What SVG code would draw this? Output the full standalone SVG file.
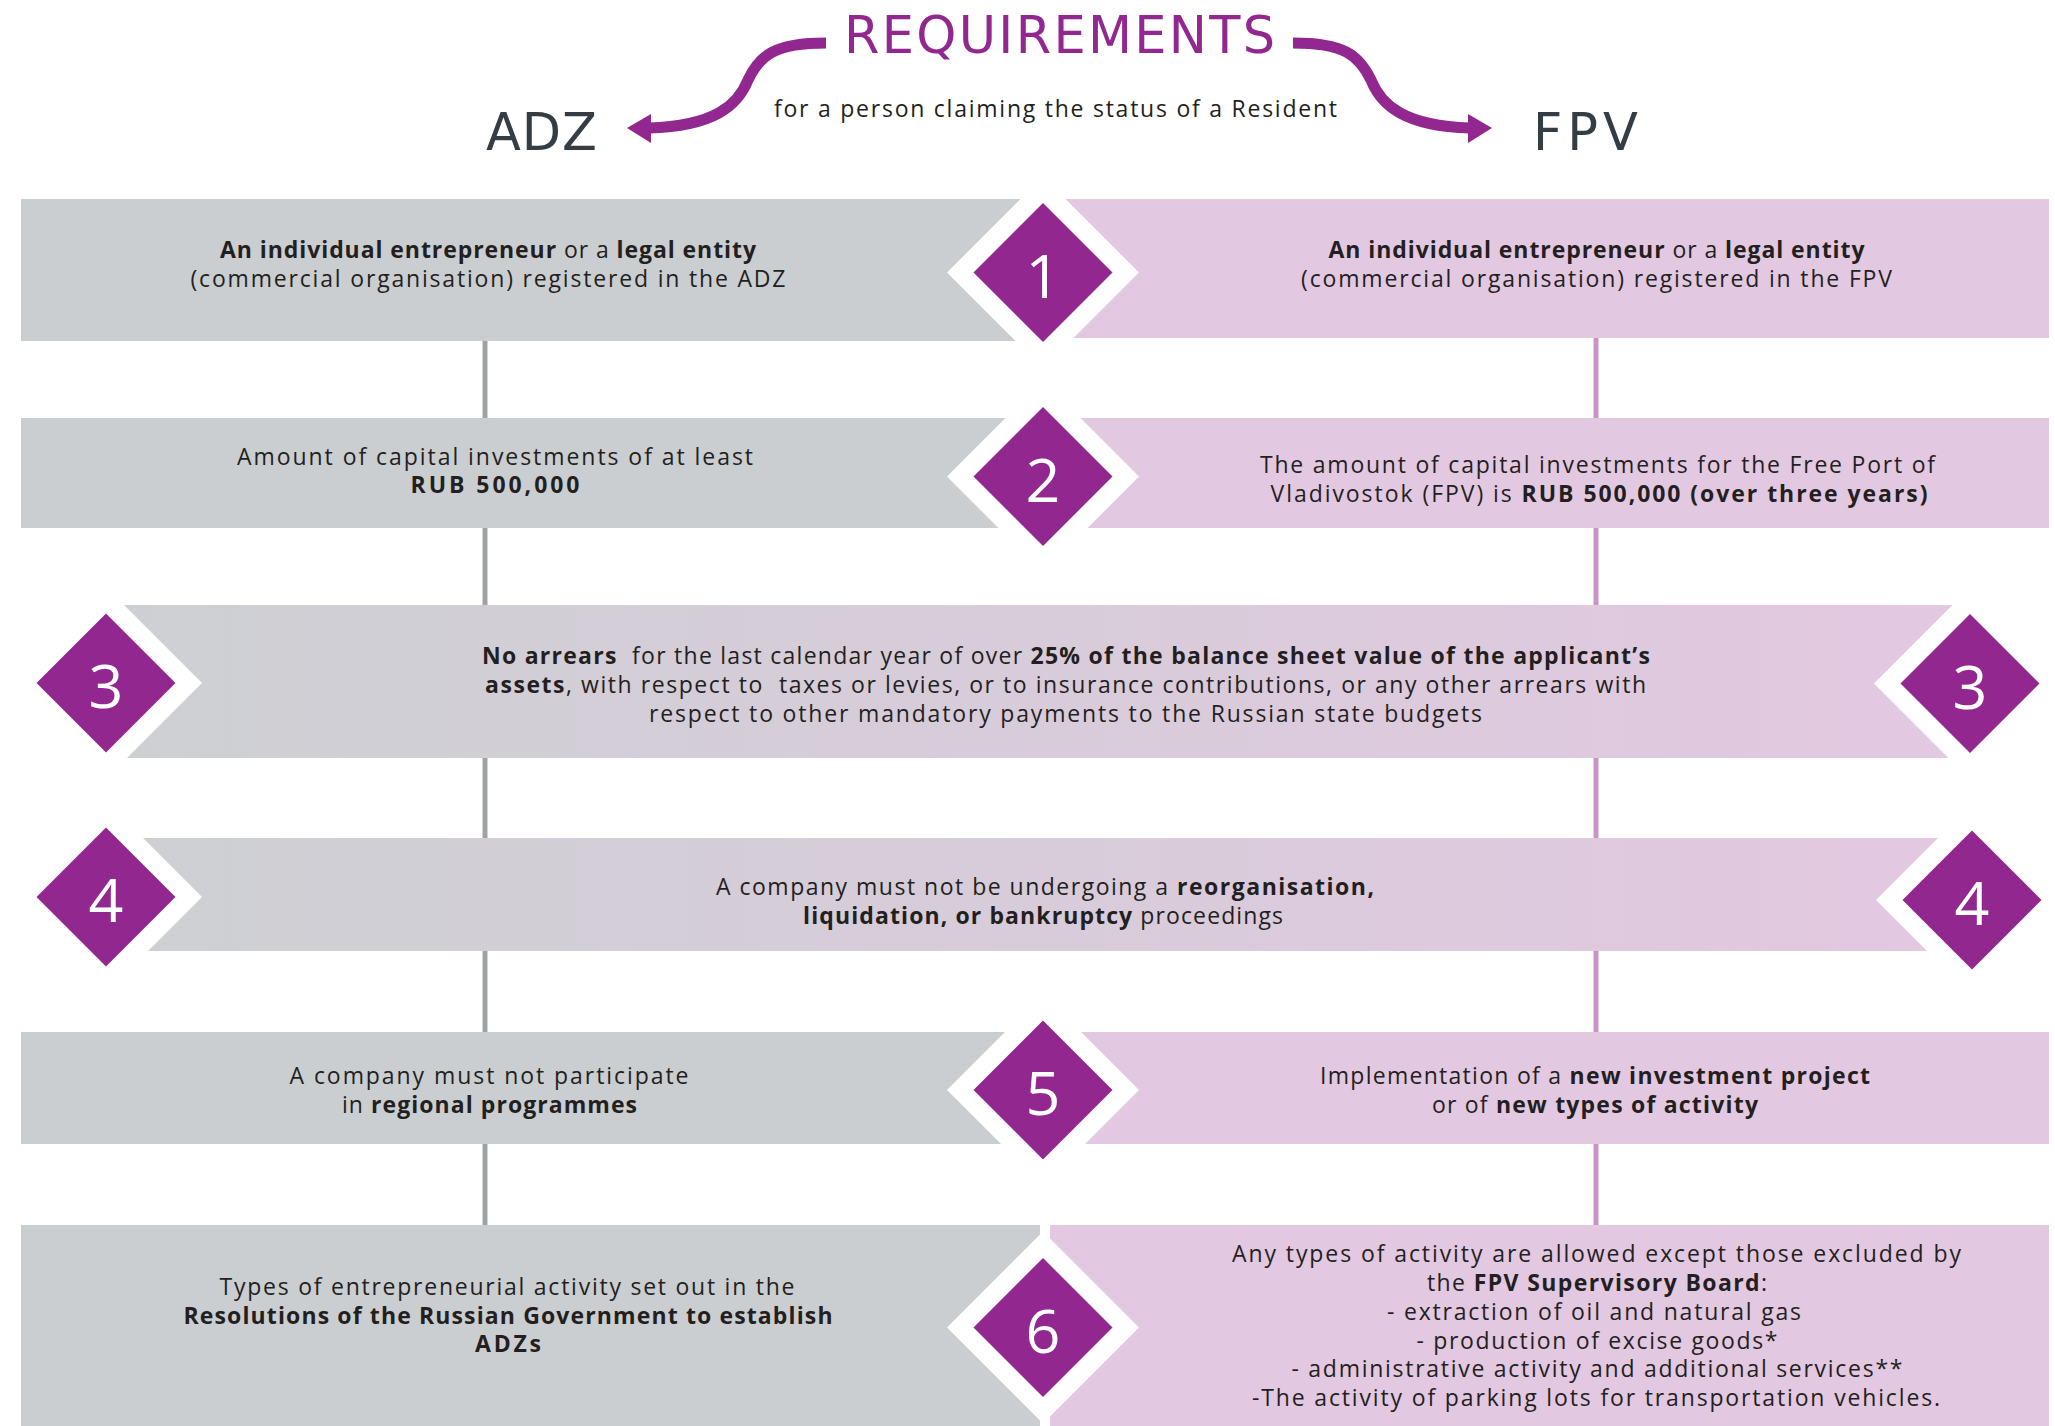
<svg xmlns="http://www.w3.org/2000/svg" xmlns:xlink="http://www.w3.org/1999/xlink" width="2055" height="1426" viewBox="0 0 2055 1426">
<style>
.t{font-family:"Open Sans","Liberation Sans",sans-serif;font-size:23px;fill:#231f20;text-anchor:middle}
.b{font-weight:700}
.num{font-family:"Open Sans","Liberation Sans",sans-serif;font-size:61px;fill:#fff;text-anchor:middle}
.gray{fill:#cbced1}
.pink{fill:#e3c8e1}
.hd{font-family:"DejaVu Sans","Open Sans",sans-serif;fill:#343c44;font-size:51px;text-anchor:middle}
.lg{stroke:#9ea3a7;stroke-width:5}
.lp{stroke:#c993c7;stroke-width:5}
</style>
<defs>
<path id="dw" d="M0 -96 L96 0 L0 96 L-96 0 Z" fill="#fff"/>
<path id="dp" d="M0 -69.5 L69.5 0 L0 69.5 L-69.5 0 Z" fill="#92278f"/>
<linearGradient id="band" gradientUnits="userSpaceOnUse" x1="106" y1="0" x2="1972" y2="0">
<stop offset="0" stop-color="#cdd0d3"/>
<stop offset="1" stop-color="#e3c8e1"/>
</linearGradient>
<g id="arrowL">
<path d="M826 43 C775 43 760 55 748 80 C738 105 715 126 649 128" fill="none" stroke="#92278f" stroke-width="11"/>
<polygon points="627,128 651,114 651,143" fill="#92278f"/>
</g>
</defs>
<rect width="2055" height="1426" fill="#fff"/>

<g id="header">
<text x="1059.5" y="53" font-family="DejaVu Sans, Open Sans, sans-serif" font-size="51" fill="#92278f" text-anchor="middle" textLength="431">REQUIREMENTS</text>
<text class="t" x="1055.5" y="117" textLength="563">for a person claiming the status of a Resident</text>
<text class="hd" x="541.5" y="150" textLength="111">ADZ</text>
<text class="hd" x="1585.5" y="150" textLength="105">FPV</text>
</g>

<g id="connectors">
<use xlink:href="#arrowL"/>
<use xlink:href="#arrowL" transform="translate(2119 0) scale(-1 1)"/>
<line class="lg" x1="485" y1="341" x2="485" y2="418"/>
<line class="lg" x1="485" y1="528" x2="485" y2="605"/>
<line class="lg" x1="485" y1="758" x2="485" y2="838"/>
<line class="lg" x1="485" y1="951" x2="485" y2="1032"/>
<line class="lg" x1="485" y1="1144" x2="485" y2="1225"/>
<line class="lp" x1="1596" y1="338" x2="1596" y2="418"/>
<line class="lp" x1="1596" y1="528" x2="1596" y2="605"/>
<line class="lp" x1="1596" y1="758" x2="1596" y2="838"/>
<line class="lp" x1="1596" y1="951" x2="1596" y2="1032"/>
<line class="lp" x1="1596" y1="1144" x2="1596" y2="1225"/>
</g>

<g id="adz-1">
<rect class="gray" x="21" y="199" width="1022" height="142"/>
<text class="t" x="488" y="258" textLength="536"><tspan class="b">An individual entrepreneur</tspan> or a <tspan class="b">legal entity</tspan></text>
<text class="t" x="488" y="287" textLength="595">(commercial organisation) registered in the ADZ</text>
</g>
<g id="fpv-1">
<rect class="pink" x="1043" y="199" width="1006" height="139"/>
<text class="t" x="1596.5" y="258" textLength="536"><tspan class="b">An individual entrepreneur</tspan> or a <tspan class="b">legal entity</tspan></text>
<text class="t" x="1596.5" y="287" textLength="591">(commercial organisation) registered in the FPV</text>
</g>

<g id="adz-2">
<rect class="gray" x="21" y="418" width="1022" height="110"/>
<text class="t" x="495" y="465" textLength="516">Amount of capital investments of at least</text>
<text class="t b" x="495" y="493" textLength="169">RUB 500,000</text>
</g>
<g id="fpv-2">
<rect class="pink" x="1043" y="418" width="1006" height="110"/>
<text class="t" x="1597.5" y="473" textLength="675">The amount of capital investments for the Free Port of</text>
<text class="t" x="1599" y="502" textLength="657">Vladivostok (FPV) is <tspan class="b">RUB 500,000 (over three years)</tspan></text>
</g>

<g id="both-3">
<rect fill="url(#band)" x="106" y="605" width="1864" height="153"/>
<text class="t" x="1066" y="664" textLength="1168" style="white-space:pre"><tspan class="b">No arrears</tspan>  for the last calendar year of over <tspan class="b">25% of the balance sheet value of the applicant’s</tspan></text>
<text class="t" x="1065.5" y="693" textLength="1161" style="white-space:pre"><tspan class="b">assets</tspan>, with respect to  taxes or levies, or to insurance contributions, or any other arrears with</text>
<text class="t" x="1065.5" y="722" textLength="833">respect to other mandatory payments to the Russian state budgets</text>
</g>

<g id="both-4">
<rect fill="url(#band)" x="106" y="838" width="1866" height="113"/>
<text class="t" x="1045" y="895" textLength="658">A company must not be undergoing a <tspan class="b">reorganisation,</tspan></text>
<text class="t" x="1043" y="924" textLength="480"><tspan class="b">liquidation, or bankruptcy</tspan> proceedings</text>
</g>

<g id="adz-5">
<rect class="gray" x="21" y="1032" width="1022" height="112"/>
<text class="t" x="489" y="1084" textLength="399">A company must not participate</text>
<text class="t" x="489.5" y="1113" textLength="295">in <tspan class="b">regional programmes</tspan></text>
</g>
<g id="fpv-5">
<rect class="pink" x="1043" y="1032" width="1006" height="112"/>
<text class="t" x="1595" y="1084" textLength="550">Implementation of a <tspan class="b">new investment project</tspan></text>
<text class="t" x="1595" y="1113" textLength="326">or of <tspan class="b">new types of activity</tspan></text>
</g>

<g id="adz-6">
<rect class="gray" x="21" y="1225" width="1019" height="201"/>
<text class="t" x="507" y="1295" textLength="575">Types of entrepreneurial activity set out in the</text>
<text class="t b" x="508" y="1324" textLength="649">Resolutions of the Russian Government to establish</text>
<text class="t b" x="508" y="1352" textLength="66">ADZs</text>
</g>
<g id="fpv-6">
<rect class="pink" x="1050" y="1225" width="999" height="201"/>
<text class="t" x="1596.5" y="1262" textLength="729">Any types of activity are allowed except those excluded by</text>
<text class="t" x="1597" y="1291" textLength="340">the <tspan class="b">FPV Supervisory Board</tspan>:</text>
<text class="t" x="1594" y="1320" textLength="414">- extraction of oil and natural gas</text>
<text class="t" x="1597" y="1349" textLength="361">- production of excise goods*</text>
<text class="t" x="1597" y="1377" textLength="611">- administrative activity and additional services**</text>
<text class="t" x="1596" y="1406" textLength="688">-The activity of parking lots for transportation vehicles.</text>
</g>

<g id="badge-1"><use xlink:href="#dw" x="1043" y="272.5"/><use xlink:href="#dp" x="1043" y="272.5"/><text class="num" x="1043" y="297.5">1</text></g>
<g id="badge-2"><use xlink:href="#dw" x="1043" y="476.5"/><use xlink:href="#dp" x="1043" y="476.5"/><text class="num" x="1043" y="501.5">2</text></g>
<g id="badge-3-adz"><use xlink:href="#dw" x="106" y="683"/><use xlink:href="#dp" x="106" y="683"/><text class="num" x="106" y="708">3</text></g>
<g id="badge-3-fpv"><use xlink:href="#dw" x="1970" y="683.5"/><use xlink:href="#dp" x="1970" y="683.5"/><text class="num" x="1970" y="708.5">3</text></g>
<g id="badge-4-adz"><use xlink:href="#dw" x="106" y="897"/><use xlink:href="#dp" x="106" y="897"/><text class="num" x="106" y="922">4</text></g>
<g id="badge-4-fpv"><use xlink:href="#dw" x="1972" y="900"/><use xlink:href="#dp" x="1972" y="900"/><text class="num" x="1972" y="925">4</text></g>
<g id="badge-5"><use xlink:href="#dw" x="1043" y="1090"/><use xlink:href="#dp" x="1043" y="1090"/><text class="num" x="1043" y="1115">5</text></g>
<g id="badge-6"><use xlink:href="#dw" x="1043" y="1327.5"/><use xlink:href="#dp" x="1043" y="1327.5"/><text class="num" x="1043" y="1352.5">6</text></g>
</svg>
